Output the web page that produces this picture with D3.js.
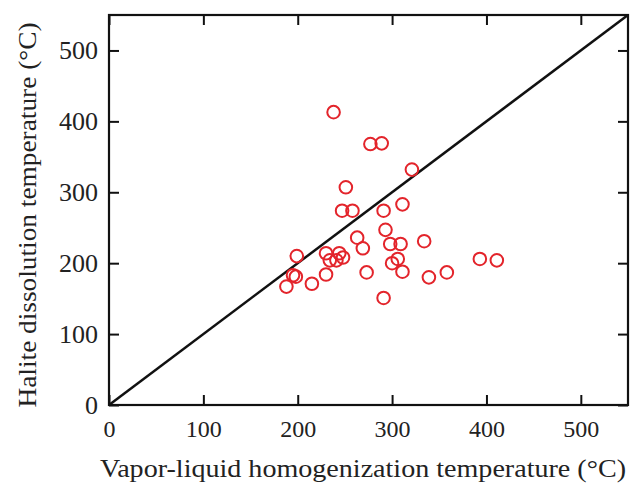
<!DOCTYPE html>
<html>
<head>
<meta charset="utf-8">
<script src="https://cdn.jsdelivr.net/npm/d3@7"></script>
<style>
  body { margin: 0; background: #fff; }
  svg text { font-family: "Liberation Serif", "Times New Roman", serif; fill: #222; }
</style>
</head>
<body>
<svg width="630" height="484"></svg>
<script>
// Vapor-liquid homogenization temperature (x) vs halite dissolution temperature (y), °C
const homogT = [238, 277, 289, 321, 251, 247, 258, 291, 311, 293, 263, 269, 298, 309, 334,
                199, 230, 244, 234, 241, 248, 300, 306, 311, 393, 411, 273, 358, 339, 230,
                215, 195, 198, 188, 291];
const haliteT = [413, 368, 369, 332, 307, 274, 274, 274, 283, 247, 236, 221, 227, 227, 231,
                 210, 214, 214, 204, 204, 208, 200, 206, 188, 206, 204, 187, 187, 180, 184,
                 171, 183, 181, 167, 151];
const tickValues = [0, 100, 200, 300, 400, 500];
const domainMax = 550;

const margin = {top: 15, right: 2, bottom: 79, left: 109};
const width = 630, height = 484;
const svg = d3.select("svg");

const x = d3.scaleLinear().domain([0, domainMax]).range([margin.left, width - margin.right]);
const y = d3.scaleLinear().domain([0, domainMax]).range([height - margin.bottom, margin.top]);

const tickLen = 10;

// inward ticks on all four sides
svg.append("g")
    .attr("transform", `translate(0,${y(0)})`)
    .call(d3.axisBottom(x).tickValues(tickValues).tickSize(-tickLen).tickPadding(15))
    .call(g => g.select(".domain").remove())
    .call(g => g.selectAll("line").attr("stroke", "#111").attr("stroke-width", 2))
    .call(g => g.selectAll("text").attr("font-size", 24).attr("fill", "#222"));

svg.append("g")
    .attr("transform", `translate(${x(0)},0)`)
    .call(d3.axisLeft(y).tickValues(tickValues).tickSize(-tickLen).tickPadding(11))
    .call(g => g.select(".domain").remove())
    .call(g => g.selectAll("line").attr("stroke", "#111").attr("stroke-width", 2))
    .call(g => g.selectAll("text").attr("font-size", 26).attr("fill", "#222"));

svg.append("g")
    .attr("transform", `translate(0,${y(domainMax)})`)
    .call(d3.axisTop(x).tickValues(tickValues).tickSize(-tickLen).tickFormat(""))
    .call(g => g.select(".domain").remove())
    .call(g => g.selectAll("line").attr("stroke", "#111").attr("stroke-width", 2));

svg.append("g")
    .attr("transform", `translate(${x(domainMax)},0)`)
    .call(d3.axisRight(y).tickValues(tickValues).tickSize(-tickLen).tickFormat(""))
    .call(g => g.select(".domain").remove())
    .call(g => g.selectAll("line").attr("stroke", "#111").attr("stroke-width", 2));

// frame
svg.append("rect")
    .attr("x", x(0)).attr("y", y(domainMax))
    .attr("width", x(domainMax) - x(0)).attr("height", y(0) - y(domainMax))
    .attr("fill", "none").attr("stroke", "#111").attr("stroke-width", 2.2);

// 1:1 line
svg.append("line")
    .attr("x1", x(0)).attr("y1", y(0))
    .attr("x2", x(domainMax)).attr("y2", y(domainMax))
    .attr("stroke", "#111").attr("stroke-width", 2.5);

// points
svg.append("g")
    .selectAll("circle")
    .data(homogT.map((d, i) => [d, haliteT[i]]))
    .join("circle")
    .attr("cx", d => x(d[0]))
    .attr("cy", d => y(d[1]))
    .attr("r", 6.3)
    .attr("fill", "none")
    .attr("stroke", "#e3242b")
    .attr("stroke-width", 2);

// axis titles
svg.append("text")
    .attr("x", 363).attr("y", 477)
    .attr("text-anchor", "middle")
    .attr("font-size", 26)
    .attr("textLength", 526)
    .attr("lengthAdjust", "spacingAndGlyphs")
    .text("Vapor-liquid homogenization temperature (°C)");

svg.append("text")
    .attr("transform", `translate(36,215) rotate(-90)`)
    .attr("text-anchor", "middle")
    .attr("font-size", 25)
    .attr("textLength", 385)
    .attr("lengthAdjust", "spacingAndGlyphs")
    .text("Halite dissolution temperature (°C)");
</script>
</body>
</html>
